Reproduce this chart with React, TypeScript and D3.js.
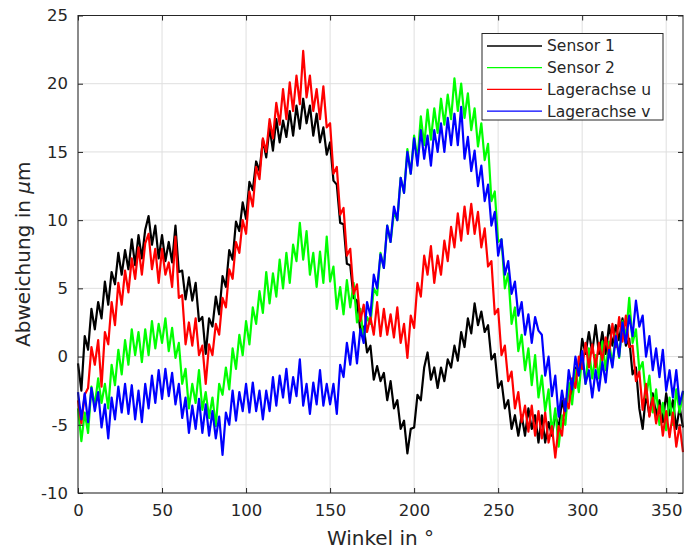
import React, { useEffect, useRef } from "react";
import * as d3 from "d3";

// winkel in grad, schrittweite 2
const STEP = 2;

const xTicks = [0, 50, 100, 150, 200, 250, 300, 350];
const yTicks = [-10, -5, 0, 5, 10, 15, 20, 25];

const sensor1 = [
  -0.5, -2.5, 1.5, 0.5, 3.5, 2.0, 4.0, 2.8, 5.5, 3.8,
  6.2, 5.3, 7.6, 6.0, 7.8, 6.4, 8.6, 6.7, 8.9, 7.2,
  9.3, 10.3, 8.2, 9.6, 7.2, 8.9, 7.0, 8.4, 6.9, 9.6,
  6.2, 6.3, 4.2, 5.8, 4.1, 5.4, 2.6, 2.9, 0.2, 2.8,
  2.2, 4.4, 3.1, 5.9, 5.1, 7.8, 7.1, 9.9, 9.2, 11.3,
  10.1, 12.8, 12.2, 14.3, 13.6, 15.9, 14.6, 16.8, 15.1, 17.4,
  15.7, 17.3, 16.1, 18.0, 16.2, 18.4, 16.7, 18.9, 17.1, 18.4,
  16.2, 17.8, 15.7, 16.8, 14.8, 15.7, 12.9, 12.6, 9.8, 9.7,
  6.8, 6.7, 4.3, 4.1, 1.9, 2.2, 0.3, 0.8, -1.7, -0.7,
  -1.8, -1.2, -3.2, -1.8, -3.8, -3.2, -5.3, -4.7, -7.1, -5.3,
  -5.2, -2.8, -3.2, -0.8, 0.3, -1.7, -0.8, -2.3, -0.8, -1.8,
  -0.2, -0.8, 0.8, -0.3, 1.8, 0.7, 2.8, 1.7, 3.9, 2.3,
  3.3, 1.8, 2.3, -0.2, 0.2, -2.3, -1.8, -3.8, -3.2, -5.3,
  -4.3, -5.8, -4.3, -5.8, -3.8, -5.3, -4.3, -6.3, -4.3, -6.3,
  -4.8, -5.8, -4.2, -5.3, -3.2, -4.3, -2.2, -2.8, -0.8, -1.3,
  1.3, 0.2, 1.8, 0.3, 2.3, 0.2, 1.8, 0.2, 2.3, 0.8,
  2.3, 1.2, 2.8, 0.8, 1.3, -1.3, -0.8, -3.8, -5.3, -2.7,
  -4.3, -2.7, -4.3, -3.2, -4.8, -2.7, -4.3, -3.2, -5.3, -3.7,
  -5.2,
];

const sensor2 = [
  -3.8, -6.2, -4.1, -5.6, -2.2, -3.6, -1.6, -3.4, -2.0, -3.8,
  -0.6, -2.1, 0.5, -1.3, 1.2, -0.6, 2.0, 0.1, 1.8, -0.4,
  2.0, 0.1, 2.6, 0.6, 2.4, 1.0, 2.8, 0.4, 2.1, -0.1,
  1.0, -2.0, -0.9, -3.8, -2.0, -3.4, -1.0, -3.9, -2.6, -4.5,
  -3.0, -5.1, -2.0, -2.8, -0.8, -2.4, 0.6, -0.9, 1.6, 0.1,
  2.6, 0.9, 3.6, 2.4, 4.8, 3.2, 6.2, 3.9, 6.1, 4.4,
  7.1, 5.0, 7.6, 5.4, 8.2, 7.0, 9.8, 7.1, 9.2, 6.0,
  7.6, 5.1, 7.7, 5.4, 8.8, 5.5, 6.6, 3.5, 5.1, 3.1,
  5.6, 3.6, 5.4, 2.5, 3.5, 1.2, 2.9, 2.4, 5.0, 4.5,
  7.6, 6.5, 9.6, 8.4, 10.6, 10.0, 13.1, 12.0, 15.2, 13.4,
  16.2, 14.4, 17.6, 15.5, 18.1, 15.9, 18.2, 16.4, 18.9, 17.0,
  19.2, 17.4, 20.4, 18.0, 20.0, 17.5, 19.3, 16.6, 18.2, 15.4,
  17.1, 14.4, 15.6, 11.4, 12.1, 8.4, 8.6, 5.0, 6.1, 2.4,
  3.6, 0.4, 1.6, -1.0, 0.6, -2.1, 0.1, -3.0, -1.4, -4.0,
  -2.4, -5.6, -3.8, -6.6, -4.3, -5.0, -1.9, -3.5, -1.0, -2.6,
  0.1, -2.0, 0.6, -1.6, 0.1, -1.6, 1.1, -1.0, 1.1, -0.6,
  1.6, -0.1, 2.6, 1.4, 4.3, 1.0, 2.0, -1.0, -0.4, -3.0,
  -1.4, -4.1, -2.4, -5.0, -3.4, -5.4, -3.0, -5.0, -2.4, -4.1,
  -2.6,
];

const achseU = [
  -3.2, -4.9, -2.8, -2.3, 0.7, -0.6, 1.2, -2.2, 1.8, 0.9,
  4.0, 2.3, 5.4, 3.8, 6.3, 4.7, 7.2, 5.7, 8.0, 6.0,
  8.3, 9.0, 6.4, 7.9, 5.4, 7.9, 6.0, 6.9, 5.1, 8.8,
  4.3, 4.5, 0.9, 2.5, 0.8, 2.8, 0.1, 0.8, -2.0, 0.9,
  0.1, 2.4, 1.6, 4.3, 3.6, 6.4, 5.7, 8.4, 7.6, 10.0,
  9.0, 12.1, 11.0, 13.9, 13.0, 16.0, 15.0, 17.4, 16.0, 18.6,
  17.0, 19.6, 17.4, 20.1, 18.0, 20.6, 18.5, 22.4, 19.0, 20.6,
  18.0, 19.6, 17.4, 19.8, 16.8, 17.1, 13.4, 13.9, 10.4, 10.9,
  7.4, 7.9, 4.6, 5.3, 2.6, 3.8, 1.8, 2.9, 1.6, 4.0,
  1.5, 3.5, 1.6, 3.1, 1.4, 3.6, 1.0, 2.4, -0.1, 3.0,
  2.1, 5.4, 4.4, 7.4, 6.0, 8.1, 5.4, 7.4, 6.0, 8.5,
  7.0, 9.5, 8.0, 10.5, 8.5, 11.0, 9.0, 11.2, 9.0, 10.6,
  8.0, 9.4, 6.6, 7.0, 3.1, 3.5, 0.1, 0.8, -1.8, -1.1,
  -3.8, -2.6, -4.8, -3.6, -5.5, -3.6, -5.8, -4.0, -6.0, -4.1,
  -6.3, -5.1, -7.4, -5.1, -5.8, -3.1, -3.8, -1.6, -2.3, 0.0,
  -0.9, 1.0, -0.8, 0.9, -0.8, 1.0, -0.3, 1.4, 0.1, 2.4,
  0.7, 2.9, 1.1, 3.0, 0.7, 0.8, -1.8, -1.1, -3.9, -2.0,
  -4.4, -3.0, -4.9, -3.6, -5.8, -4.0, -5.9, -4.1, -6.6, -5.0,
  -7.0,
];

const achseV = [
  -2.6, -4.6, -2.7, -4.8, -2.3, -4.0, -2.6, -5.2, -3.5, -6.0,
  -3.0, -4.6, -2.2, -4.1, -2.0, -4.2, -2.1, -4.6, -2.5, -4.8,
  -2.0, -3.8, -1.4, -3.4, -1.0, -3.1, -0.9, -2.9, -1.2, -3.5,
  -2.0, -4.5, -3.0, -5.6, -3.6, -5.3, -3.1, -5.6, -3.5, -5.8,
  -4.0, -6.0, -4.4, -7.2, -4.1, -5.0, -2.5, -4.7, -2.6, -4.0,
  -2.0, -4.1, -1.9, -4.0, -2.5, -4.6, -2.5, -4.0, -1.5, -3.6,
  -1.4, -3.0, -0.9, -3.4, -1.5, -2.9, -0.2, -3.6, -2.0, -4.2,
  -1.9, -3.5, -1.0, -3.6, -2.0, -3.5, -2.0, -4.2, -0.6, -1.5,
  1.0, -0.6, 1.8, -0.5, 2.0, 1.0, 4.0, 3.0, 6.0, 5.0,
  7.5, 6.5, 9.6, 8.4, 11.0, 10.0, 13.1, 12.0, 15.0, 13.4,
  16.0, 14.0, 16.6, 14.5, 16.2, 14.0, 16.6, 15.0, 17.1, 15.0,
  17.5, 15.5, 17.8, 15.5, 18.3, 14.5, 16.1, 13.6, 15.1, 12.5,
  14.0, 11.4, 12.6, 9.6, 10.6, 7.4, 8.6, 6.0, 7.0, 4.6,
  5.5, 3.0, 4.0, 1.6, 3.1, 1.0, 2.9, 1.9, 1.6, -1.4,
  0.0, -2.9, -1.4, -4.4, -2.5, -4.0, -1.0, -2.4, 0.0, -1.4,
  0.4, -2.0, -1.0, -3.0, -1.0, -2.5, -0.4, -1.9, 0.5, -0.8,
  1.5, 0.0, 2.5, 1.0, 3.0, 1.5, 4.1, 2.2, 3.0, 0.0,
  1.5, -1.0, 0.6, -1.5, 0.5, -2.5, -1.0, -3.0, -1.0, -3.5,
  -2.5,
];

const seriesNames = ["Sensor 1", "Sensor 2", "Lagerachse u", "Lagerachse v"];
const seriesColors = ["#000000", "#00ff00", "#ff0000", "#0000ff"];
const seriesData = [sensor1, sensor2, achseU, achseV];

const Chart = () => {
  const svgRef = useRef<SVGSVGElement>(null);

  useEffect(() => {
    const svg = d3.select(svgRef.current);
    svg.selectAll("*").remove();

    const width = 684,
      height = 551;
    const left = 78,
      right = 683,
      top = 15.5,
      bottom = 493;
    const font = "'DejaVu Sans', sans-serif";
    const axisColor = "#262626";

    const x = d3.scaleLinear().domain([0, 360]).range([left, right]);
    const y = d3.scaleLinear().domain([-10, 25]).range([bottom, top]);

    svg.attr("width", width).attr("height", height);
    svg.append("rect").attr("width", width).attr("height", height).attr("fill", "#fff");

    // gitter
    const grid = svg.append("g").attr("stroke", "#dfdfdf").attr("stroke-width", 1);
    grid
      .selectAll("line.gx")
      .data(xTicks)
      .enter()
      .append("line")
      .attr("x1", (d) => x(d))
      .attr("x2", (d) => x(d))
      .attr("y1", top)
      .attr("y2", bottom);
    grid
      .selectAll("line.gy")
      .data(yTicks)
      .enter()
      .append("line")
      .attr("x1", left)
      .attr("x2", right)
      .attr("y1", (d) => y(d))
      .attr("y2", (d) => y(d));

    // kurven
    const line = d3
      .line<number>()
      .x((d, i) => x(i * STEP))
      .y((d) => y(d));

    seriesData.forEach((data, k) => {
      svg
        .append("path")
        .datum(data)
        .attr("d", line)
        .attr("fill", "none")
        .attr("stroke", seriesColors[k])
        .attr("stroke-width", 2.2)
        .attr("stroke-linejoin", "round");
    });

    // achsen, ticks nach innen
    const fmt = (d: any) => String(d);
    const axB = svg
      .append("g")
      .attr("transform", `translate(0,${bottom})`)
      .call(d3.axisBottom(x).tickValues(xTicks).tickSize(-5).tickPadding(11).tickFormat(fmt));
    const axT = svg
      .append("g")
      .attr("transform", `translate(0,${top})`)
      .call(d3.axisTop(x).tickValues(xTicks).tickSize(-5).tickFormat(() => ""));
    const axL = svg
      .append("g")
      .attr("transform", `translate(${left},0)`)
      .call(d3.axisLeft(y).tickValues(yTicks).tickSize(-5).tickPadding(10).tickFormat(fmt));
    const axR = svg
      .append("g")
      .attr("transform", `translate(${right},0)`)
      .call(d3.axisRight(y).tickValues(yTicks).tickSize(-5).tickFormat(() => ""));

    [axB, axT, axL, axR].forEach((ax) => {
      ax.select(".domain").remove();
      ax.selectAll("line").attr("stroke", axisColor);
      ax.selectAll("text")
        .attr("fill", axisColor)
        .style("font-family", font)
        .style("font-size", "16.5px");
    });

    svg
      .append("rect")
      .attr("x", left)
      .attr("y", top)
      .attr("width", right - left)
      .attr("height", bottom - top)
      .attr("fill", "none")
      .attr("stroke", axisColor)
      .attr("stroke-width", 1);

    // achsenbeschriftung
    svg
      .append("text")
      .attr("x", (left + right) / 2)
      .attr("y", 545)
      .attr("text-anchor", "middle")
      .attr("fill", axisColor)
      .style("font-family", font)
      .style("font-size", "20px")
      .text("Winkel in °");

    const yl = svg
      .append("text")
      .attr("transform", `translate(30,${(top + bottom) / 2}) rotate(-90)`)
      .attr("text-anchor", "middle")
      .attr("fill", axisColor)
      .style("font-family", font)
      .style("font-size", "20px");
    yl.append("tspan").text("Abweichung in ");
    yl.append("tspan").style("font-style", "italic").text("μ");
    yl.append("tspan").text("m");

    // legende
    const leg = svg.append("g");
    leg
      .append("rect")
      .attr("x", 482)
      .attr("y", 33.5)
      .attr("width", 181)
      .attr("height", 86.5)
      .attr("fill", "#fff")
      .attr("stroke", axisColor)
      .attr("stroke-width", 1);
    seriesNames.forEach((name, k) => {
      const ry = 46 + k * 21.7;
      leg
        .append("line")
        .attr("x1", 487)
        .attr("x2", 542)
        .attr("y1", ry)
        .attr("y2", ry)
        .attr("stroke", seriesColors[k])
        .attr("stroke-width", 1.3);
      leg
        .append("text")
        .attr("x", 547)
        .attr("y", ry)
        .attr("dy", "0.35em")
        .attr("fill", axisColor)
        .style("font-family", font)
        .style("font-size", "15.5px")
        .text(name);
    });
  });

  return (
    <svg
      ref={svgRef}
      style={{ position: "absolute", left: 0, top: 0, width: 684, height: 551 }}
    ></svg>
  );
};

export default function App() {
  return <Chart />;
}
